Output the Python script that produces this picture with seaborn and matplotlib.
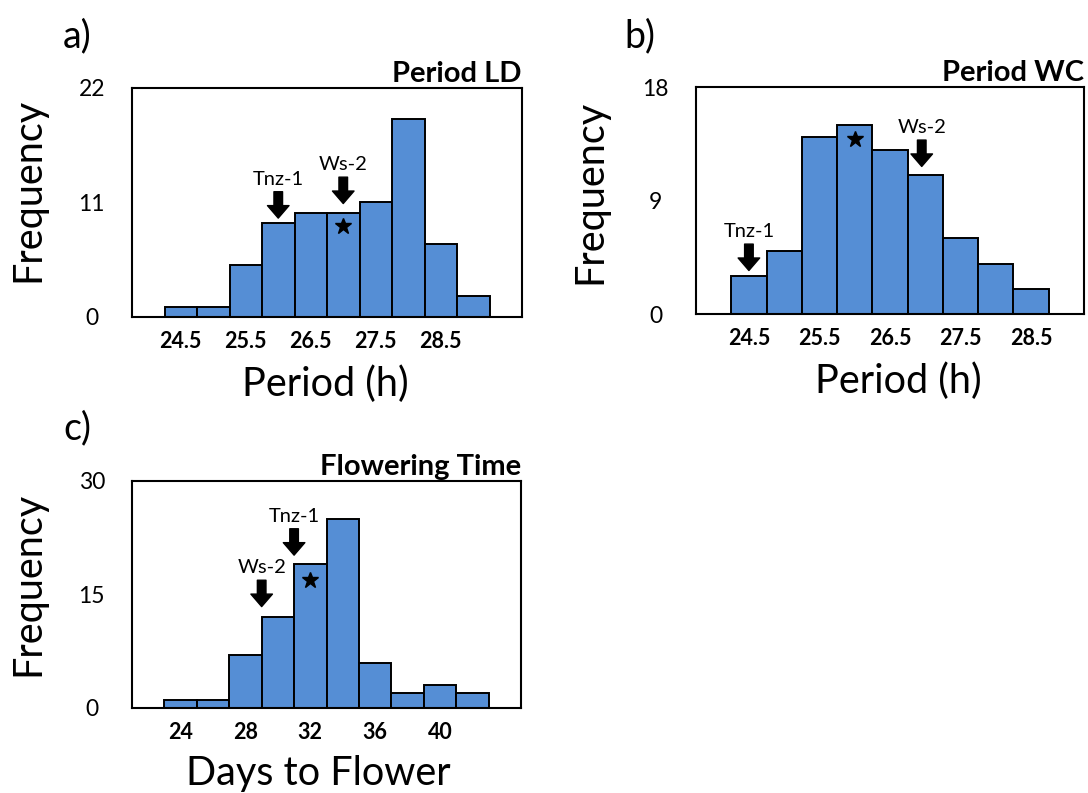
import numpy as np
import pandas as pd
import matplotlib
matplotlib.use('Agg')
import matplotlib.pyplot as plt
import seaborn as sns

# Period LD: bin centres (h) and counts
ld_centers = [24.5, 25.0, 25.5, 26.0, 26.5, 27.0, 27.5, 28.0, 28.5, 29.0]
ld_counts = [1, 1, 5, 9, 10, 10, 11, 19, 7, 2]
ld_ticks = [24.5, 25.5, 26.5, 27.5, 28.5]
ld_yticks = [0, 11, 22]

# Period WC
wc_centers = [24.5, 25.0, 25.5, 26.0, 26.5, 27.0, 27.5, 28.0, 28.5]
wc_counts = [3, 5, 14, 15, 13, 11, 6, 4, 2]
wc_ticks = [24.5, 25.5, 26.5, 27.5, 28.5]
wc_yticks = [0, 9, 18]

# Flowering time: bin centres (days) and counts
ft_centers = [24, 26, 28, 30, 32, 34, 36, 38, 40, 42]
ft_counts = [1, 1, 7, 12, 19, 25, 6, 2, 3, 2]
ft_ticks = [24, 28, 32, 36, 40]
ft_yticks = [0, 15, 30]

# parental accessions (label, x, arrow tip y) and star (x, y)
ld_arrows = [('Tnz-1', 26.0, 9.5), ('Ws-2', 27.0, 10.9)]
ld_star = (27.0, 8.7)
wc_arrows = [('Tnz-1', 24.5, 3.45), ('Ws-2', 26.95, 11.7)]
wc_star = (26.0, 13.85)
ft_arrows = [('Tnz-1', 31.0, 20.2), ('Ws-2', 29.0, 13.4)]
ft_star = (32.0, 16.9)

W, H = 1088, 793
BLUE = '#558ED5'

sns.set_theme(style='white')
plt.rcParams['font.family'] = ['Lato', 'DejaVu Sans']
plt.rcParams.update({'text.color': 'black', 'axes.labelcolor': 'black',
                     'xtick.color': 'black', 'ytick.color': 'black'})

fig = plt.figure(figsize=(W / 100, H / 100), dpi=100)


def px_axes(l, t, r, b):
    return fig.add_axes([l / W, 1 - b / H, (r - l) / W, (b - t) / H])


def panel(ax, centers, counts, width, xlim, ticks, yticks, title, xlabel,
          arrows, star, xlab_pos, ylab_pos):
    df = pd.DataFrame({'center': centers, 'count': counts})
    edges = [c - width / 2 for c in centers] + [centers[-1] + width / 2]
    sns.histplot(data=df, x='center', weights='count', bins=edges, ax=ax,
                 color=BLUE, edgecolor='black', linewidth=1.4, alpha=1)
    ax.set_xlim(*xlim)
    ax.set_ylim(yticks[0], yticks[-1])
    ax.set_xticks(ticks)
    ax.set_xticklabels([f'{t:g}' for t in ticks], fontweight='bold', fontsize=15.5)
    ax.set_xticks(np.arange(xlim[0], xlim[1] + width / 10, width), minor=True)
    ax.set_yticks(yticks)
    ax.set_yticklabels([str(t) for t in yticks], fontsize=16.5, ha='center')
    ax.tick_params(axis='x', which='major', length=0, pad=10)
    ax.tick_params(axis='x', which='minor', length=4, width=1.2,
                   direction='out', color='black')
    ax.tick_params(axis='y', length=4, width=1.2, direction='out',
                   color='black', pad=25)
    for s in ax.spines.values():
        s.set_visible(True)
        s.set_color('black')
        s.set_linewidth(1.5)
    ax.set_title(title, loc='right', fontweight='bold', fontsize=21, pad=4)
    ax.set_xlabel(xlabel, fontsize=28.5, va='center')
    ax.set_ylabel('Frequency', fontsize=28.5, va='center')
    ax.xaxis.set_label_coords(xlab_pos[0] / W, 1 - xlab_pos[1] / H,
                              transform=fig.transFigure)
    ax.yaxis.set_label_coords(ylab_pos[0] / W, 1 - ylab_pos[1] / H,
                              transform=fig.transFigure)
    for name, x, y in arrows:
        ax.annotate('', xy=(x, y), xytext=(0, 19), textcoords='offset points',
                    arrowprops=dict(arrowstyle='simple,head_length=0.9,head_width=1.55,tail_width=0.62',
                                    mutation_scale=10, color='black',
                                    shrinkA=0, shrinkB=0))
        ax.annotate(name, xy=(x, y), xytext=(0, 22), textcoords='offset points',
                    ha='center', va='bottom', fontsize=14.5)
    ax.plot(star[0], star[1], marker='*', color='black', markersize=12,
            linestyle='none')


ax_a = px_axes(132, 88, 522, 317)
panel(ax_a, ld_centers, ld_counts, 0.5, (23.75, 29.75), ld_ticks, ld_yticks,
      'Period LD', 'Period (h)', ld_arrows, ld_star, (325, 384), (28, 190))

ax_b = px_axes(696, 87, 1084, 314)
panel(ax_b, wc_centers, wc_counts, 0.5, (23.75, 29.25), wc_ticks, wc_yticks,
      'Period WC', 'Period (h)', wc_arrows, wc_star, (898, 381), (590, 192))

ax_c = px_axes(132, 481, 521, 708)
panel(ax_c, ft_centers, ft_counts, 2, (21, 45), ft_ticks, ft_yticks,
      'Flowering Time', 'Days to Flower', ft_arrows, ft_star, (318, 774), (28, 584))

for lab, x, y in [('a)', 77, 36), ('b)', 640, 36), ('c)', 77, 428)]:
    fig.text(x / W, 1 - y / H, lab, fontsize=27, ha='center', va='center')

fig.savefig('out.png', dpi=100)
